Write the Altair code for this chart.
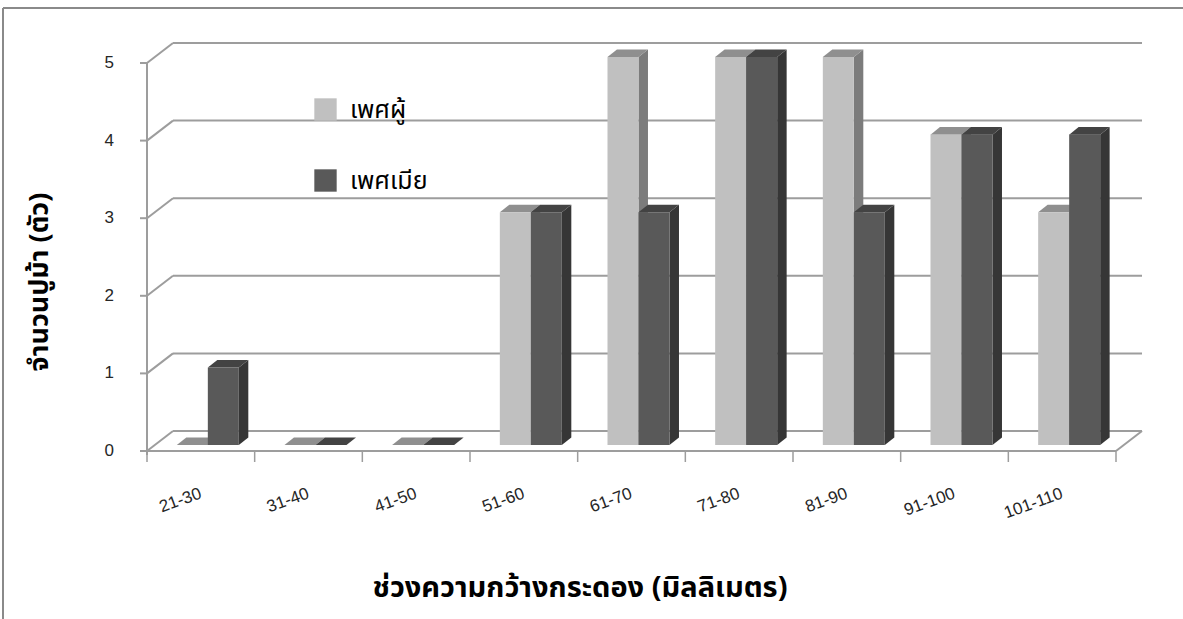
import altair as alt
import pandas as pd

# ---------------- data ----------------
categories = ["21-30", "31-40", "41-50", "51-60", "61-70", "71-80", "81-90", "91-100", "101-110"]
male = [0, 0, 0, 3, 5, 5, 5, 4, 3]
female = [1, 0, 0, 3, 3, 5, 3, 4, 4]
series_names = ["เพศผู้", "เพศเมีย"]
y_ticks = [0, 1, 2, 3, 4, 5]
x_title = "ช่วงความกว้างกระดอง (มิลลิเมตร)"
y_title = "จำนวนปูม้า (ตัว)"

# ---------------- style ----------------
W, H = 969, 388
THAI = "Noto Sans Thai, Tahoma, Loma, Garuda, Noto Sans, sans-serif"
LAT = "Liberation Sans, Arial, sans-serif"
GRID = "#9d9d9d"
front_colors = ["#c0c0c0", "#595959"]
top_colors = ["#8f8f8f", "#434343"]
side_colors = ["#7c7c7c", "#363636"]
BAR_W = 0.288   # bar width (category units)
DX = 0.088      # bar depth, category units
DY = 0.097      # bar depth, value units
SX, SY = 0.065, 0.077  # bar position inside the floor depth (data units)
WX, WY = 26, -20  # back wall depth (px)

xs = alt.Scale(domain=[0, 9], nice=False, zero=False)
ys = alt.Scale(domain=[0, 5], nice=False, zero=False)

fronts, tops, sides = [], [], []
for i, cat in enumerate(categories):
    for s, vals in enumerate([male, female]):
        v = vals[i]
        x0 = i + 0.5 - BAR_W + s * BAR_W + SX
        x1 = x0 + BAR_W
        bid = f"b{i}_{s}"
        fronts.append(dict(id=bid, series=series_names[s], s=s, x0=x0, x1=x1, v=v + SY, b=SY))
        tops.append(dict(id=bid, s=s, y=v + SY, xl=x0, xr=x1))
        tops.append(dict(id=bid, s=s, y=v + SY + DY, xl=x0 + DX, xr=x1 + DX))
        sides.append(dict(id=bid, s=s, x=x1, y=v + SY, yb=SY))
        sides.append(dict(id=bid, s=s, x=x1 + DX, y=v + SY + DY, yb=SY + DY))
fronts = pd.DataFrame(fronts)
tops = pd.DataFrame(tops)
sides = pd.DataFrame(sides)
ticks_df = pd.DataFrame({"v": y_ticks})
bounds_df = pd.DataFrame({"b": list(range(len(categories) + 1))})
cat_df = pd.DataFrame({"cat": categories, "pos": [i + 0.5 for i in range(len(categories))]})
zero_df = pd.DataFrame({"v": [0]})

layers = []

# frame
layers.append(alt.Chart(zero_df).mark_rule(color="#8a8a8a", strokeWidth=2).encode(
    x=alt.value(-144), x2=alt.value(1040), y=alt.value(-55)))
layers.append(alt.Chart(zero_df).mark_rule(color="#8a8a8a", strokeWidth=2).encode(
    x=alt.value(-144), y=alt.value(-55), y2=alt.value(560)))

# back wall grid lines and their diagonals
layers.append(alt.Chart(ticks_df).mark_rule(color=GRID, strokeWidth=2, yOffset=WY).encode(
    x=alt.value(WX), x2=alt.value(W + WX), y=alt.Y("v:Q", scale=ys, axis=None)))
layers.append(alt.Chart(ticks_df).mark_rule(color=GRID, strokeWidth=2, y2Offset=WY).encode(
    x=alt.value(0), x2=alt.value(WX), y=alt.Y("v:Q", scale=ys, axis=None), y2="v:Q"))
# floor right edge
layers.append(alt.Chart(zero_df).mark_rule(color=GRID, strokeWidth=2, y2Offset=WY).encode(
    x=alt.value(W), x2=alt.value(W + WX), y=alt.Y("v:Q", scale=ys, axis=None), y2="v:Q"))
# floor front edge / x axis line
layers.append(alt.Chart(zero_df).mark_rule(color=GRID, strokeWidth=2).encode(
    x=alt.value(0), x2=alt.value(W), y=alt.Y("v:Q", scale=ys, axis=None)))
# y axis line and ticks
layers.append(alt.Chart(zero_df).mark_rule(color=GRID, strokeWidth=2).encode(
    x=alt.value(0), y=alt.value(0), y2=alt.value(H + 4)))
layers.append(alt.Chart(ticks_df).mark_rule(color=GRID, strokeWidth=2).encode(
    x=alt.value(-7), x2=alt.value(0), y=alt.Y("v:Q", scale=ys, axis=None)))
layers.append(alt.Chart(ticks_df).mark_text(align="right", baseline="middle", font=LAT,
                                             fontSize=17, color="#262626").encode(
    x=alt.value(-33), y=alt.Y("v:Q", scale=ys, axis=None), text="v:Q"))
# x ticks
layers.append(alt.Chart(bounds_df).mark_rule(color=GRID, strokeWidth=1.5).encode(
    x=alt.X("b:Q", scale=xs, axis=None), y=alt.value(H), y2=alt.value(H + 11)))
# x labels
layers.append(alt.Chart(cat_df).mark_text(align="right", baseline="middle", angle=340,
                                           font=LAT, fontSize=17, color="#262626").encode(
    x=alt.X("pos:Q", scale=xs, axis=None), y=alt.value(H + 42), text="cat:N"))

# bars
for s in range(2):
    sd = sides[sides.s == s].reset_index(drop=True)
    td = tops[tops.s == s].reset_index(drop=True)
    fd = fronts[fronts.s == s].reset_index(drop=True)
    layers.append(alt.Chart(sd).mark_area(color=side_colors[s], orient="vertical").encode(
        x=alt.X("x:Q", scale=xs, axis=None),
        y=alt.Y("y:Q", scale=ys, axis=None, stack=None),
        y2=alt.Y2("yb:Q"), detail="id:N"))
    layers.append(alt.Chart(td).mark_area(color=top_colors[s], orient="horizontal").encode(
        y=alt.Y("y:Q", scale=ys, axis=None),
        x=alt.X("xl:Q", scale=xs, axis=None, stack=None),
        x2=alt.X2("xr:Q"), detail="id:N"))
    layers.append(alt.Chart(fd).mark_rect().encode(
        x=alt.X("x0:Q", scale=xs, axis=None), x2="x1:Q",
        y=alt.Y("v:Q", scale=ys, axis=None),
        y2="b:Q",
        color=alt.Color("series:N", scale=alt.Scale(domain=series_names, range=front_colors),
                        legend=alt.Legend(title=None, orient="none", legendX=166, legendY=34,
                                          symbolType="square", symbolSize=500,
                                          symbolStrokeWidth=0, labelFont=THAI,
                                          labelFontSize=25, labelColor="#000000",
                                          labelOffset=12, rowPadding=45))))

# titles
layers.append(alt.Chart(zero_df).mark_text(angle=270, font=THAI, fontSize=27, fontWeight="bold",
                                           align="center", baseline="middle", color="#000000").encode(
    x=alt.value(-107), y=alt.value(219), text=alt.value(y_title)))
layers.append(alt.Chart(zero_df).mark_text(font=THAI, fontSize=29, fontWeight="bold",
                                           align="center", baseline="middle", color="#000000").encode(
    x=alt.value(433), y=alt.value(525), text=alt.value(x_title)))

chart = alt.layer(*layers).properties(
    width=W, height=H,
    padding={"left": 147, "top": 63, "right": 67, "bottom": 168},
    autosize=alt.AutoSizeParams(type="none"),
    background="#ffffff",
).configure_view(stroke=None)

chart.save("out.html", embed_options={"renderer": "svg", "actions": False})
